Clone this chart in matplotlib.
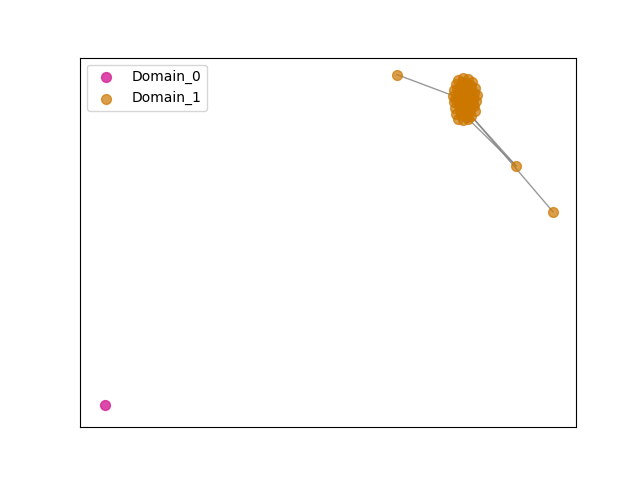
import matplotlib
matplotlib.use("Agg")
import matplotlib.pyplot as plt

# Domain_0 nodes
d0_x = [105]
d0_y = [75]

# Domain_1 nodes: three outliers followed by the dense cluster
d1_x = [397, 516, 553,
        458, 463, 468, 472, 456, 461, 466, 471, 475, 454, 459, 464, 469, 474, 477,
        453, 458, 463, 468, 473, 476, 454, 459, 464, 469, 474, 455, 460, 465, 470,
        475, 456, 461, 466, 471, 458, 463, 468, 462, 467, 460, 466,
        465, 470, 457, 462, 455, 472, 459, 469, 464, 461, 467, 473]
d1_y = [405, 314, 268,
        400, 402, 401, 398, 396, 395, 396, 393, 392, 390, 389, 390, 388, 387, 385,
        384, 383, 384, 382, 381, 379, 378, 377, 377, 376, 374, 372, 371, 372, 370,
        369, 366, 365, 366, 364, 361, 360, 361, 398, 386, 380, 369,
        393, 395, 391, 386, 381, 384, 374, 379, 382, 368, 363, 376]

# edges between Domain_1 nodes (index pairs)
edges = [(0, 18), (37, 1), (40, 1), (37, 2)]

fig, ax = plt.subplots(figsize=(6.4, 4.8), dpi=100)

for a, b in edges:
    ax.plot([d1_x[a], d1_x[b]], [d1_y[a], d1_y[b]], color="gray", alpha=0.8, linewidth=1, zorder=1)

ax.scatter(d0_x, d0_y, s=50, color="#d62a9a", alpha=0.85, label="Domain_0", zorder=2)
ax.scatter(d1_x, d1_y, s=50, color="#cc7700", alpha=0.7, label="Domain_1", zorder=2)

ax.set_xlim(80, 576)
ax.set_ylim(53, 422)
ax.set_xticks([])
ax.set_yticks([])
ax.legend(loc="upper left")

plt.savefig("out.png")
